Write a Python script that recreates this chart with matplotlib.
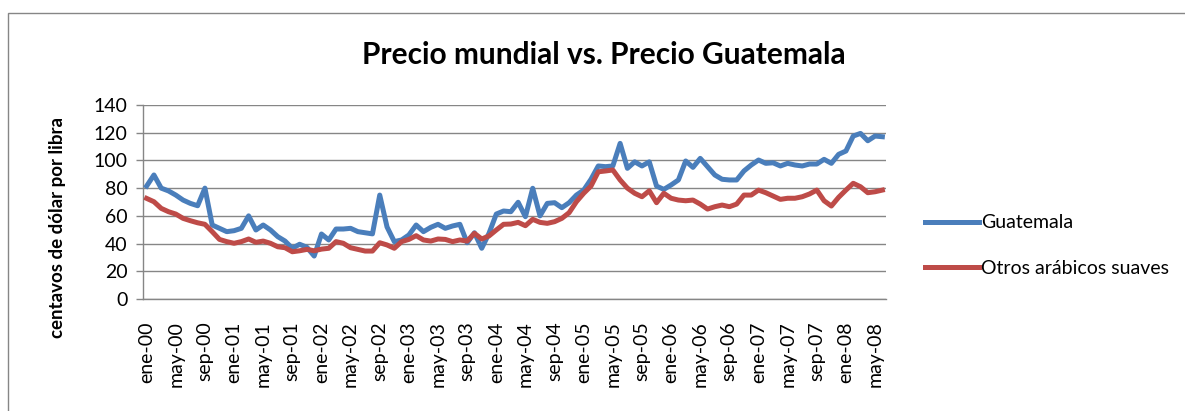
"""Precio mundial vs. precio Guatemala (centavos de dólar por libra)."""

import matplotlib
matplotlib.use("Agg")
import matplotlib.pyplot as plt
from matplotlib.patches import Rectangle

# monthly series, ene-00 .. jun-08
guatemala = [
    81.5, 89.5, 80.0, 78.0, 75.0, 71.4, 69.0, 67.3, 80.0, 53.4, 51.0, 48.6,
    49.3, 51.0, 60.0, 49.8, 53.4, 49.8, 45.0, 41.8, 36.6, 39.5, 37.3, 31.0,
    46.9, 42.6, 50.5, 50.5, 51.0, 48.6, 47.8, 47.0, 75.0, 52.0, 41.4, 42.6,
    46.2, 53.4, 48.6, 51.7, 53.9, 51.0, 52.7, 53.9, 40.6, 47.8, 36.6, 47.4,
    61.3, 63.5, 63.0, 69.8, 59.4, 79.9, 60.0, 69.0, 69.5, 65.9, 69.5, 75.0,
    78.6, 86.4, 96.0, 95.5, 96.0, 112.3, 94.3, 99.0, 96.0, 99.0, 81.5, 79.1,
    82.3, 85.9, 99.6, 95.0, 101.5, 95.5, 89.5, 86.4, 85.9, 85.9, 92.4, 96.7,
    100.3, 97.9, 98.3, 96.0, 97.9, 96.7, 96.0, 97.4, 97.4, 100.8, 97.9, 104.4,
    106.8, 117.6, 119.5, 114.2, 117.6, 117.1,
]
otros_arabicos = [
    72.6, 70.2, 65.4, 63.0, 61.3, 58.2, 56.5, 55.0, 53.9, 48.6, 43.0, 41.4,
    40.2, 41.4, 43.3, 40.9, 41.8, 40.2, 37.7, 37.0, 34.1, 34.8, 35.8, 34.8,
    36.0, 36.6, 41.4, 40.2, 37.0, 35.8, 34.6, 34.6, 40.6, 39.0, 36.6, 41.4,
    43.0, 45.7, 42.6, 41.8, 43.3, 43.0, 41.4, 42.6, 41.8, 47.4, 43.3, 45.5,
    49.8, 53.9, 54.1, 55.3, 52.9, 57.5, 55.3, 54.6, 55.8, 58.2, 62.3, 70.2,
    76.3, 81.5, 91.8, 92.4, 93.1, 85.9, 80.0, 76.3, 73.8, 78.1, 69.5, 76.3,
    72.7, 71.4, 70.9, 71.4, 68.5, 64.9, 66.6, 67.8, 66.6, 68.5, 75.0, 75.0,
    78.6, 76.7, 74.3, 71.9, 72.7, 72.7, 73.8, 75.8, 78.6, 70.9, 67.1, 73.4,
    78.6, 83.5, 81.0, 76.7, 77.4, 78.6,
]
meses = ["ene", "feb", "mar", "abr", "may", "jun",
         "jul", "ago", "sep", "oct", "nov", "dic"]
first_year = 2000
y_ticks = [0, 20, 40, 60, 80, 100, 120, 140]

labels = [f"{meses[i % 12]}-{(first_year + i // 12) % 100:02d}"
          for i in range(len(guatemala))]
x = list(range(len(guatemala)))

plt.rcParams["font.family"] = ["Lato", "DejaVu Sans"]
GRID = "#868686"
W, H = 1185, 411

fig = plt.figure(figsize=(W / 100, H / 100), dpi=100)
ax = fig.add_axes([143 / W, 1 - 299 / H, 743 / W, 194 / H])

ax.plot(x, guatemala, color="#4A7EBB", linewidth=3.6, label="Guatemala",
        solid_joinstyle="round", zorder=3)
ax.plot(x, otros_arabicos, color="#BE4B48", linewidth=3.6,
        label="Otros arábicos suaves", solid_joinstyle="round", zorder=3)

ax.set_xlim(-0.5, len(x) - 0.5)
ax.set_ylim(0, 140)
ax.set_yticks(y_ticks)
ax.set_xticks(x[::4])
ax.set_xticklabels(labels[::4], rotation=90, fontsize=14)
ax.tick_params(axis="y", labelsize=14, length=5, color=GRID, width=1, pad=6)
ax.tick_params(axis="x", length=0, pad=16)
ax.grid(True, axis="y", color=GRID, linewidth=1)
for side in ("top", "right"):
    ax.spines[side].set_visible(False)
for side in ("left", "bottom"):
    ax.spines[side].set_color(GRID)
    ax.spines[side].set_linewidth(1)

# y axis title sits lower than the plot centre, as in the original
fig.text(57 / W, 1 - 228 / H, "centavos de dólar por libra", rotation=90,
         ha="center", va="center", fontsize=13.5, fontweight="bold")

fig.text(604 / W, 1 - 55 / H, "Precio mundial vs. Precio Guatemala",
         ha="center", va="center", fontsize=21.5, fontweight="bold")

fig.legend(loc="center left", bbox_to_anchor=(925 / W, 1 - 245.5 / H),
           frameon=False, fontsize=14, handlelength=2.8, handletextpad=0.1,
           labelspacing=1.45, borderpad=0, borderaxespad=0)

# outer chart border (right and bottom edges fall outside the picture)
fig.add_artist(Rectangle((8 / W, -0.1), 1.2, 1.1 - 13 / H, fill=False,
                         edgecolor=GRID, linewidth=1,
                         transform=fig.transFigure))

fig.savefig("out.png", dpi=100)
